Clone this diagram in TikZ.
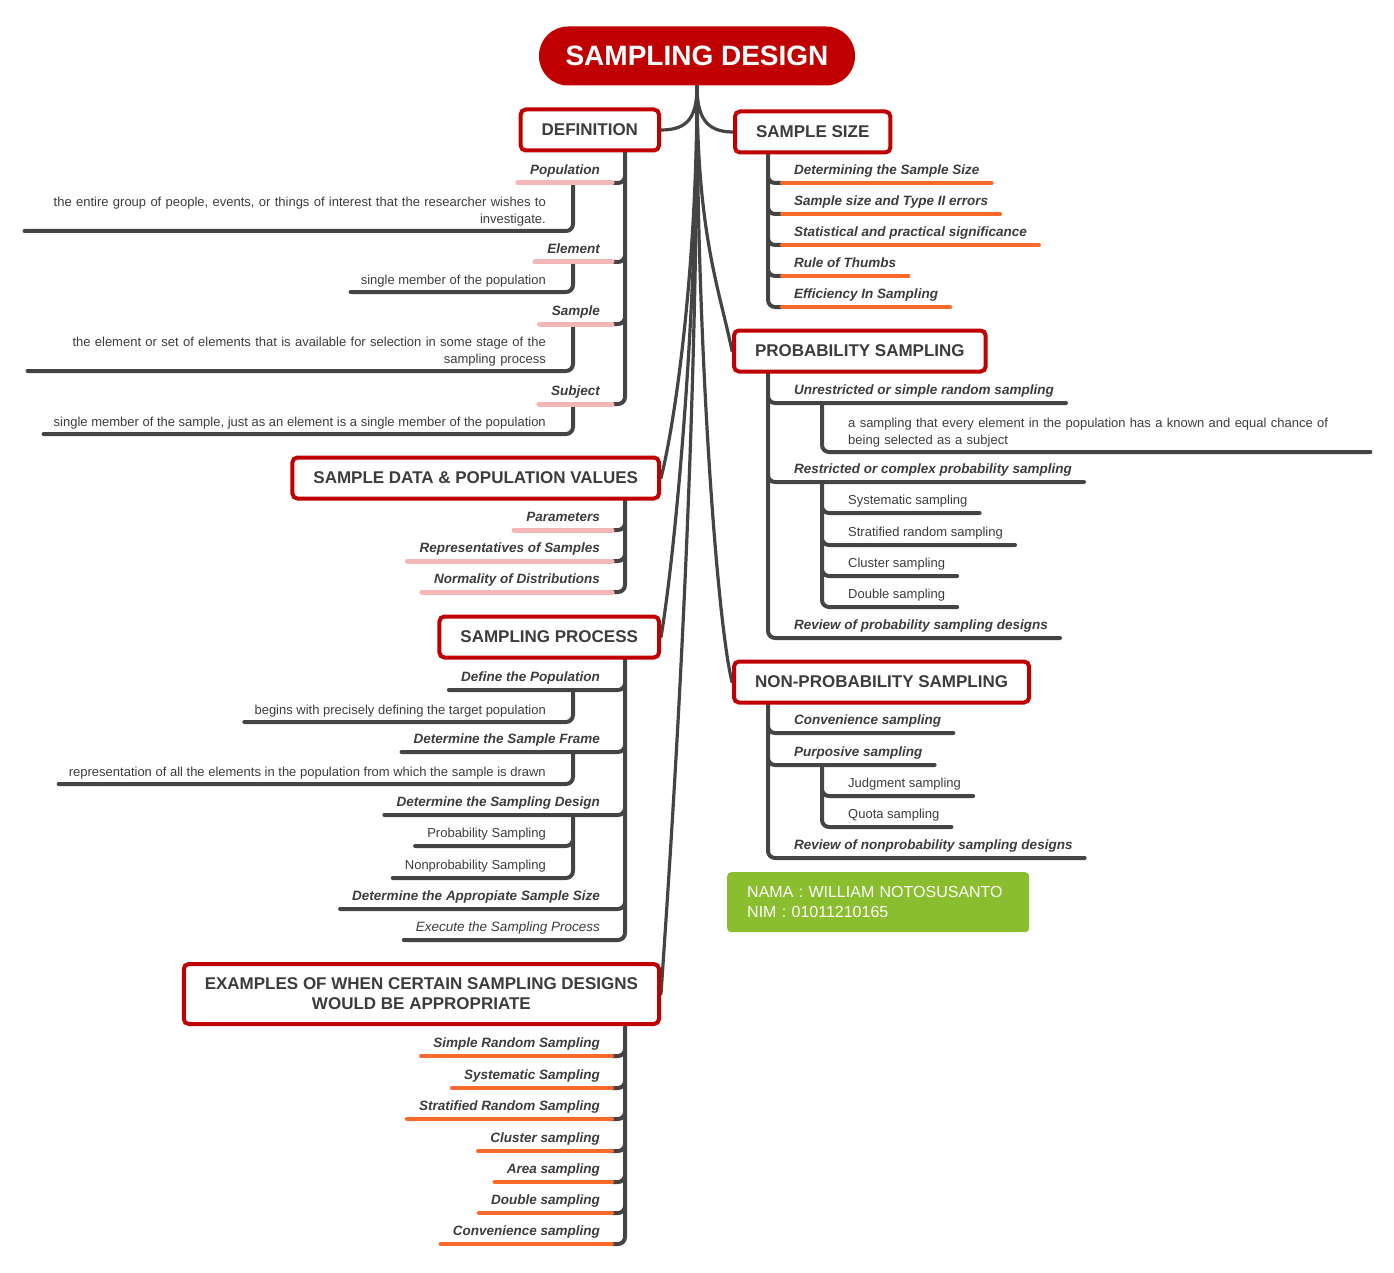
\documentclass[tikz,border=0pt]{standalone}
\usepackage{fontspec}
\setmainfont{Liberation Sans}
\usetikzlibrary{calc, backgrounds}
\definecolor{sdred}{HTML}{C00000}
\definecolor{sdink}{HTML}{444444}
\definecolor{sdtext}{HTML}{3C3C3C}
\definecolor{sdpink}{HTML}{F4B6B6}
\definecolor{sdorange}{HTML}{FA6A2B}
\definecolor{sdgreen}{HTML}{8ABE2E}

\begin{document}
\begin{tikzpicture}[
    x=1pt, y=-1pt,
    every node/.style={text=sdtext},
    rootnode/.style={fill=sdred, text=white, rounded corners=29pt, minimum width=316pt, minimum height=59pt, font=\fontsize{28}{32}\selectfont\bfseries},
    topic/.style={draw=sdred, line width=4pt, fill=white, rounded corners=5pt, inner xsep=21pt, minimum height=41pt, align=center, font=\fontsize{17}{20}\selectfont\bfseries},
    lbl/.style={inner xsep=12pt, inner ysep=5pt, text height=9.5pt, text depth=3pt, font=\fontsize{13.5}{15}\selectfont\bfseries\itshape},
    plainlbl/.style={lbl, font=\fontsize{13}{15}\selectfont},
    note/.style={inner xsep=10pt, inner ysep=5pt, font=\fontsize{13}{17}\selectfont},
    limb/.style={draw=sdink, line width=4pt, line cap=round, rounded corners=7pt},
    branch/.style={draw=sdink, line width=3.2pt, line cap=round},
    pinkbar/.style={draw=sdpink, line width=5pt, line cap=round},
    orangebar/.style={draw=sdorange, line width=4pt, line cap=round},
    idbox/.style={fill=sdgreen, text=white, rounded corners=4pt, inner xsep=20pt, minimum height=60pt, text width=262pt, align=left, font=\fontsize{16}{20}\selectfont},
  ]
  \useasboundingbox (0,0) rectangle (1394,1273);
  \coordinate (lsp) at (625,0);
  \coordinate (rsp) at (768,0);

  \node[rootnode] (root) at (697,56) {SAMPLING DESIGN};

  % main topics
  \node[topic, anchor=east] (def) at (661,130) {DEFINITION};
  \node[topic, anchor=west] (size) at (733,132) {SAMPLE SIZE};
  \node[topic, anchor=west] (prob) at (732,351) {PROBABILITY SAMPLING};
  \node[topic, anchor=west] (nonprob) at (732,682) {NON-PROBABILITY SAMPLING};
  \node[topic, anchor=east] (data) at (661,478) {SAMPLE DATA \& POPULATION VALUES};
  \node[topic, anchor=east] (proc) at (661,637) {SAMPLING PROCESS};
  \node[topic, anchor=east, minimum height=60pt] (ex) at (661,994) {EXAMPLES OF WHEN CERTAIN SAMPLING DESIGNS\\WOULD BE APPROPRIATE};

  % definition
  \node[lbl, anchor=south east] (pop) at (612,183) {Population};
  \node[note, anchor=south east, align=right, text width=511pt] (popd) at (556,231) {the entire group of people, events, or things of interest that the researcher wishes to\\investigate.};
  \node[lbl, anchor=south east] (elem) at (612,262) {Element};
  \node[note, anchor=south east] (elemd) at (556,292) {single member of the population};
  \node[lbl, anchor=south east] (samp) at (612,324) {Sample};
  \node[note, anchor=south east, align=right, text width=508pt] (sampd) at (556,371) {the element or set of elements that is available for selection in some stage of the\\sampling process};
  \node[lbl, anchor=south east] (subj) at (612,404) {Subject};
  \node[note, anchor=south east] (subjd) at (556,434) {single member of the sample, just as an element is a single member of the population};

  % sample data
  \node[lbl, anchor=south east] (par) at (612,530) {Parameters};
  \node[lbl, anchor=south east] (rep) at (612,561) {Representatives of Samples};
  \node[lbl, anchor=south east] (norm) at (612,592) {Normality of Distributions};

  % sampling process
  \node[lbl, anchor=south east] (dpop) at (612,690) {Define the Population};
  \node[note, anchor=south east] (dpopd) at (556,722) {begins with precisely defining the target population};
  \node[lbl, anchor=south east] (frame) at (612,752) {Determine the Sample Frame};
  \node[note, anchor=south east] (framed) at (556,784) {representation of all the elements in the population from which the sample is drawn};
  \node[lbl, anchor=south east] (design) at (612,815) {Determine the Sampling Design};
  \node[plainlbl, anchor=south east] (psamp) at (558,846) {Probability Sampling};
  \node[plainlbl, anchor=south east] (npsamp) at (558,878) {Nonprobability Sampling};
  \node[lbl, anchor=south east] (appsize) at (612,909) {Determine the Appropiate Sample Size};
  \node[lbl, anchor=south east, font=\fontsize{13.5}{15}\selectfont\itshape] (exec) at (612,940) {Execute the Sampling Process};

  % examples
  \node[lbl, anchor=south east] (ex1) at (612,1056) {Simple Random Sampling};
  \node[lbl, anchor=south east] (ex2) at (612,1088) {Systematic Sampling};
  \node[lbl, anchor=south east] (ex3) at (612,1119) {Stratified Random Sampling};
  \node[lbl, anchor=south east] (ex4) at (612,1151) {Cluster sampling};
  \node[lbl, anchor=south east] (ex5) at (612,1182) {Area sampling};
  \node[lbl, anchor=south east] (ex6) at (612,1213) {Double sampling};
  \node[lbl, anchor=south east] (ex7) at (612,1244) {Convenience sampling};

  % sample size
  \node[lbl, anchor=south west] (det) at (782,183) {Determining the Sample Size};
  \node[lbl, anchor=south west] (typ) at (782,214) {Sample size and Type II errors};
  \node[lbl, anchor=south west] (stat) at (782,245) {Statistical and practical significance};
  \node[lbl, anchor=south west] (rule) at (782,276) {Rule of Thumbs};
  \node[lbl, anchor=south west] (eff) at (782,307) {Efficiency In Sampling};

  % probability sampling
  \node[lbl, anchor=south west] (unres) at (782,403) {Unrestricted or simple random sampling};
  \node[note, anchor=south west, align=left, text width=512pt] (unresd) at (838,452) {a sampling that every element in the population has a known and equal chance of\\being selected as a subject};
  \node[lbl, anchor=south west] (restr) at (782,482) {Restricted or complex probability sampling};
  \node[plainlbl, anchor=south west] (sys) at (836,513) {Systematic sampling};
  \node[plainlbl, anchor=south west] (strat) at (836,545) {Stratified random sampling};
  \node[plainlbl, anchor=south west] (clus) at (836,576) {Cluster sampling};
  \node[plainlbl, anchor=south west] (dbl) at (836,607) {Double sampling};
  \node[lbl, anchor=south west] (rev) at (782,638) {Review of probability sampling designs};

  % non-probability sampling
  \node[lbl, anchor=south west] (conv) at (782,733) {Convenience sampling};
  \node[lbl, anchor=south west] (purp) at (782,765) {Purposive sampling};
  \node[plainlbl, anchor=south west] (judg) at (836,796) {Judgment sampling};
  \node[plainlbl, anchor=south west] (quota) at (836,827) {Quota sampling};
  \node[lbl, anchor=south west] (revn) at (782,858) {Review of nonprobability sampling designs};

  \node[idbox, anchor=north west] (who) at (727,872) {NAMA : WILLIAM NOTOSUSANTO\\NIM : 01011210165};

  \begin{scope}[on background layer]
    \draw[branch] (root.south) .. controls +(0,30) and +(28,0) .. (def.east);
    \draw[branch] (root.south) .. controls +(0,30) and +(-28,0) .. (size.west);
    \draw[branch] (root.south) .. controls +(0,150) and +(-12,-60) .. (prob.west);
    \draw[branch] (root.south) .. controls +(0,260) and +(-15,-60) .. (nonprob.west);
    \draw[branch] (root.south) .. controls +(0,180) and +(15,-60) .. (data.east);
    \draw[branch] (root.south) .. controls +(0,250) and +(12,-70) .. (proc.east);
    \draw[branch] (root.south) .. controls +(0,400) and +(8,-120) .. (ex.east);

    \draw[limb] (def.south -| lsp) |- (pop.south east) (def.south -| lsp) |- (elem.south east)
      (def.south -| lsp) |- (samp.south east) (def.south -| lsp) |- (subj.south east);
    \draw[limb] ($(pop.south east)+(-39,0)$) |- (popd.south west);
    \draw[limb] ($(elem.south east)+(-39,0)$) |- (elemd.south west);
    \draw[limb] ($(samp.south east)+(-39,0)$) |- (sampd.south west);
    \draw[limb] ($(subj.south east)+(-39,0)$) |- (subjd.south west);
    \draw[pinkbar] (pop.south west) -- (pop.south east) (elem.south west) -- (elem.south east)
      (samp.south west) -- (samp.south east) (subj.south west) -- (subj.south east);

    \draw[limb] (data.south -| lsp) |- (par.south east) (data.south -| lsp) |- (rep.south east)
      (data.south -| lsp) |- (norm.south east);
    \draw[pinkbar] (par.south west) -- (par.south east) (rep.south west) -- (rep.south east)
      (norm.south west) -- (norm.south east);

    \draw[limb] (proc.south -| lsp) |- (dpop.south west) (proc.south -| lsp) |- (frame.south west)
      (proc.south -| lsp) |- (design.south west) (proc.south -| lsp) |- (appsize.south west)
      (proc.south -| lsp) |- (exec.south west);
    \draw[limb] ($(dpop.south east)+(-39,0)$) |- (dpopd.south west);
    \draw[limb] ($(frame.south east)+(-39,0)$) |- (framed.south west);
    \draw[limb] ($(design.south east)+(-39,0)$) |- (psamp.south west)
      ($(design.south east)+(-39,0)$) |- (npsamp.south west);

    \draw[limb] (ex.south -| lsp) |- (ex1.south east) (ex.south -| lsp) |- (ex2.south east)
      (ex.south -| lsp) |- (ex3.south east) (ex.south -| lsp) |- (ex4.south east)
      (ex.south -| lsp) |- (ex5.south east) (ex.south -| lsp) |- (ex6.south east)
      (ex.south -| lsp) |- (ex7.south east);
    \draw[orangebar] (ex1.south west) -- (ex1.south east) (ex2.south west) -- (ex2.south east)
      (ex3.south west) -- (ex3.south east) (ex4.south west) -- (ex4.south east)
      (ex5.south west) -- (ex5.south east) (ex6.south west) -- (ex6.south east)
      (ex7.south west) -- (ex7.south east);

    \draw[limb] (size.south -| rsp) |- (det.south west) (size.south -| rsp) |- (typ.south west)
      (size.south -| rsp) |- (stat.south west) (size.south -| rsp) |- (rule.south west)
      (size.south -| rsp) |- (eff.south west);
    \draw[orangebar] (det.south west) -- (det.south east) (typ.south west) -- (typ.south east)
      (stat.south west) -- (stat.south east) (rule.south west) -- (rule.south east)
      (eff.south west) -- (eff.south east);

    \draw[limb] (prob.south -| rsp) |- (unres.south east) (prob.south -| rsp) |- (restr.south east)
      (prob.south -| rsp) |- (rev.south east);
    \draw[limb] ($(unres.south west)+(40,0)$) |- (unresd.south east);
    \draw[limb] ($(restr.south west)+(40,0)$) |- (sys.south east) ($(restr.south west)+(40,0)$) |- (strat.south east)
      ($(restr.south west)+(40,0)$) |- (clus.south east) ($(restr.south west)+(40,0)$) |- (dbl.south east);

    \draw[limb] (nonprob.south -| rsp) |- (conv.south east) (nonprob.south -| rsp) |- (purp.south east)
      (nonprob.south -| rsp) |- (revn.south east);
    \draw[limb] ($(purp.south west)+(40,0)$) |- (judg.south east) ($(purp.south west)+(40,0)$) |- (quota.south east);
  \end{scope}
\end{tikzpicture}
\end{document}
